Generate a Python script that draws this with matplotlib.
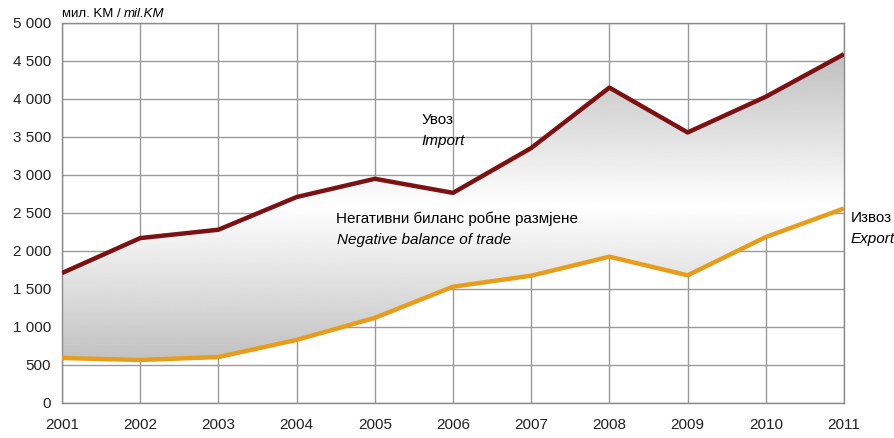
import numpy as np
import matplotlib.pyplot as plt
from matplotlib.patches import Polygon

years = [2001, 2002, 2003, 2004, 2005, 2006, 2007, 2008, 2009, 2010, 2011]
imports = [1710, 2170, 2280, 2710, 2950, 2765, 3355, 4150, 3560, 4030, 4590]
exports = [592, 566, 605, 830, 1120, 1530, 1675, 1925, 1680, 2184, 2560]
yticks = [0, 500, 1000, 1500, 2000, 2500, 3000, 3500, 4000, 4500, 5000]
ytick_labels = ['0', '500', '1 000', '1 500', '2 000', '2 500', '3 000',
                '3 500', '4 000', '4 500', '5 000']

plt.rcParams['font.family'] = ['Liberation Sans', 'DejaVu Sans']

fig = plt.figure(figsize=(8.94, 4.38), dpi=100)
ax = fig.add_axes([62/894, 35/438, 782/894, 380/438])

# gradient fill between the two lines
yy = np.linspace(0, 5000, 400)
shade = np.interp(yy, [0, 500, 2600, 4600, 5000], [0.72, 0.75, 1.0, 0.75, 0.72])
grad = np.repeat(shade[:, None], 2, axis=1)
img = ax.imshow(grad, extent=[years[0], years[-1], 0, 5000], origin='lower',
                cmap='gray', vmin=0, vmax=1, aspect='auto', zorder=1)
verts = list(zip(years, imports)) + list(zip(years[::-1], exports[::-1]))
poly = Polygon(verts, closed=True, facecolor='none', edgecolor='none')
ax.add_patch(poly)
img.set_clip_path(poly)

ax.plot(years, imports, color='#7b1113', lw=3.2, zorder=3, solid_capstyle='butt')
ax.plot(years, exports, color='#e89c1c', lw=3.2, zorder=3, solid_capstyle='butt')

ax.set_xlim(2001, 2011)
ax.set_ylim(0, 5000)
ax.set_xticks(years)
ax.set_yticks(yticks)
ax.set_yticklabels(ytick_labels)
ax.grid(True, color='#9a9a9a', lw=1, zorder=0)
ax.set_axisbelow(True)
for s in ax.spines.values():
    s.set_color('#8a8a8a')
    s.set_linewidth(1)
ax.tick_params(length=0, labelsize=11, colors='#222222')
ax.tick_params(axis='x', pad=11)
ax.tick_params(axis='y', pad=8)

t1 = fig.text(62/894, 1 - 14/438, 'мил. KM / ', fontsize=9.5, va='center', ha='left')
ax.annotate('mil.KM', xy=(1, 0.5), xycoords=t1, va='center', ha='left',
            fontsize=9.5, style='italic')

ax.text(2005.6, 3730, 'Увоз', fontsize=11, ha='left', va='center')
ax.text(2005.6, 3450, 'Import', fontsize=11, style='italic', ha='left', va='center')
ax.text(2004.5, 2420, 'Негативни биланс робне размјене', fontsize=11, ha='left', va='center')
ax.text(2004.52, 2140, 'Negative balance of trade', fontsize=11, style='italic', ha='left', va='center')
ax.text(2011.08, 2440, 'Извоз', fontsize=11, ha='left', va='center', clip_on=False)
ax.text(2011.08, 2160, 'Export', fontsize=11, style='italic', ha='left', va='center', clip_on=False)

fig.savefig('out.png', dpi=100)
